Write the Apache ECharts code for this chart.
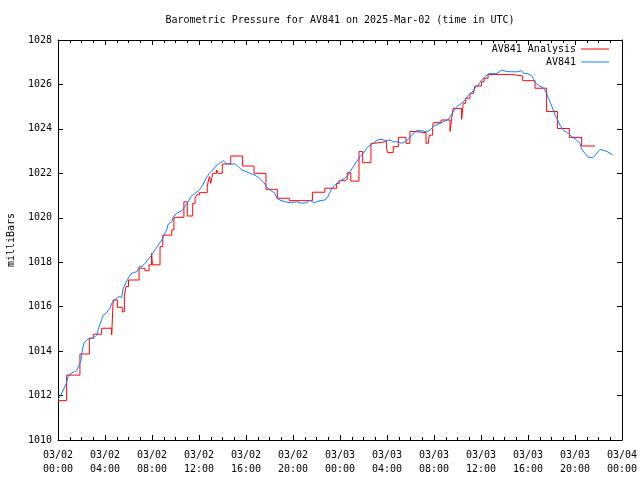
<!DOCTYPE html>
<html>
<head>
<meta charset="utf-8">
<script src="https://cdn.jsdelivr.net/npm/echarts@6/dist/echarts.min.js"></script>
<style>html,body{margin:0;padding:0;background:#fff}#c{width:640px;height:480px}</style>
</head>
<body>
<div id="c"></div>
<script>
// minutes since 2025-03-02 00:00 UTC
var blueMinutes = [0,10,27,44,50,61,83,95,104,116,121,126,134,147,163,180,189,198,206,223,231,245,266,274,286,300,311,325,333,347,359,371,384,402,415,432,444,461,478,495,512,530,541,555,563,581,589,606,632,648,665,678,700,722,739,756,773,790,807,824,844,858,878,904,921,938,964,980,1006,1028,1048,1066,1083,1108,1117,1134,1159,1185,1193,1219,1244,1270,1287,1304,1321,1338,1363,1380,1398,1414,1440,1465,1474,1482,1491,1500,1508,1516,1525,1533,1542,1559,1567,1576,1593,1610,1630,1653,1678,1695,1712,1738,1755,1772,1789,1806,1832,1857,1883,1900,1916,1934,1951,1976,1993,2002,2018,2036,2061,2078,2095,2112,2129,2146,2163,2180,2197,2214,2231,2248,2266,2291,2317,2342,2350,2368,2376,2393,2401,2419,2436,2453,2478,2495,2504,2516,2529,2538,2550,2563,2580,2606,2623,2645,2665,2674,2691,2708,2733,2747,2768,2793,2815,2832];
var blueValues = [1011.85,1011.95,1012.25,1012.58,1012.82,1012.97,1013.07,1013.12,1013.30,1013.52,1013.82,1014.13,1014.38,1014.50,1014.58,1014.58,1014.50,1014.72,1014.98,1015.43,1015.62,1015.70,1015.93,1016.15,1016.30,1016.38,1016.45,1016.42,1016.83,1017.08,1017.28,1017.47,1017.53,1017.57,1017.80,1017.83,1017.95,1018.13,1018.32,1018.55,1018.77,1019.00,1019.22,1019.45,1019.72,1019.82,1020.05,1020.20,1020.32,1020.50,1020.72,1020.95,1021.10,1021.25,1021.47,1021.78,1022.00,1022.15,1022.33,1022.45,1022.57,1022.45,1022.42,1022.42,1022.30,1022.15,1022.07,1022.00,1021.92,1021.78,1021.62,1021.40,1021.25,1021.10,1020.88,1020.80,1020.72,1020.68,1020.62,1020.72,1020.65,1020.68,1020.80,1020.68,1020.72,1020.77,1020.80,1020.98,1021.33,1021.47,1021.67,1021.78,1021.85,1021.92,1022.07,1022.15,1022.30,1022.37,1022.52,1022.52,1022.75,1022.90,1022.90,1023.13,1023.27,1023.35,1023.50,1023.53,1023.47,1023.50,1023.42,1023.42,1023.35,1023.42,1023.53,1023.72,1023.92,1023.92,1023.87,1023.95,1024.10,1024.18,1024.25,1024.35,1024.43,1024.55,1024.77,1025.00,1025.15,1025.30,1025.52,1025.63,1025.83,1025.97,1026.20,1026.35,1026.47,1026.50,1026.47,1026.53,1026.65,1026.58,1026.57,1026.57,1026.62,1026.62,1026.50,1026.50,1026.53,1026.40,1026.11,1025.95,1025.85,1025.60,1025.38,1025.15,1024.85,1024.62,1024.43,1024.17,1023.95,1023.80,1023.65,1023.53,1023.35,1023.08,1022.90,1022.72,1022.72,1022.86,1023.08,1023.02,1022.93,1022.83];

var redMinutes = [0,44,112,160,180,223,274,282,303,328,339,347,360,414,444,465,478,482,521,535,581,592,643,660,688,700,708,722,762,767,773,780,790,810,819,839,882,943,1001,1062,1120,1181,1299,1363,1423,1436,1465,1477,1495,1537,1556,1598,1615,1678,1683,1712,1738,1777,1797,1823,1879,1891,1896,1913,1916,1956,2002,2010,2018,2061,2069,2082,2104,2121,2129,2163,2175,2196,2317,2373,2436,2495,2550,2611,2674,2742];
var redValues = [1011.77,1012.92,1013.87,1014.58,1014.76,1015.03,1014.73,1016.30,1015.97,1015.77,1016.52,1016.90,1017.20,1017.73,1017.62,1017.88,1018.40,1017.88,1018.70,1019.22,1019.45,1020.02,1020.72,1020.08,1020.65,1020.88,1021.03,1021.13,1021.40,1021.63,1021.85,1021.55,1022.00,1022.15,1022.00,1022.42,1022.78,1022.33,1022.00,1021.28,1020.88,1020.77,1021.15,1021.33,1021.55,1021.67,1021.73,1022.03,1021.65,1022.98,1022.48,1023.35,1023.43,1023.13,1022.93,1023.20,1023.62,1023.35,1023.88,1023.83,1023.35,1023.30,1023.72,1024.02,1024.28,1024.40,1023.88,1024.48,1024.92,1024.43,1025.15,1025.38,1025.60,1025.67,1025.93,1026.12,1026.28,1026.45,1026.38,1026.17,1025.83,1024.78,1024.02,1023.62,1023.23,1023.23];

var titleText = 'Barometric Pressure for AV841 on 2025-Mar-02 (time in UTC)';
var yTicks = {min: 1010, max: 1028, interval: 2};
var xTicks = {min: 0, max: 2880, interval: 240};

function pair(a, b) { return a.map(function (v, i) { return [v, b[i]]; }); }
function fmtX(m) {
  var day = 2 + Math.floor(m / 1440);
  var h = Math.round((m % 1440) / 60);
  return '03/' + (day < 10 ? '0' : '') + day + '\n' + (h < 10 ? '0' : '') + h + ':00';
}

var FONT = 'DejaVu Sans Mono';
var txt = {fontFamily: FONT, fontSize: 10, color: '#000'};

var chart = echarts.init(document.getElementById('c'), null, {renderer: 'canvas'});
var baseX = {
  type: 'value', min: xTicks.min, max: xTicks.max, interval: xTicks.interval,
  axisLine: {show: true, onZero: false, lineStyle: {color: '#000', width: 1}},
  axisTick: {show: true, inside: true, length: 5, lineStyle: {color: '#000'}},
  minorTick: {show: true, splitNumber: 4, length: 3, lineStyle: {color: '#000'}},
  splitLine: {show: false}, minorSplitLine: {show: false}
};
var baseY = {
  type: 'value', min: yTicks.min, max: yTicks.max, interval: yTicks.interval,
  axisLine: {show: true, onZero: false, lineStyle: {color: '#000', width: 1}},
  axisTick: {show: true, inside: true, length: 5, lineStyle: {color: '#000'}},
  splitLine: {show: false}
};
chart.setOption({
  animation: false,
  backgroundColor: '#fff',
  title: {
    text: titleText, left: 335, top: 10, textAlign: 'center',
    textStyle: {fontFamily: FONT, fontSize: 10, fontWeight: 'normal', color: '#000'}
  },
  legend: {
    orient: 'vertical', right: 31, top: 44, align: 'right', itemGap: 3, padding: 0,
    itemWidth: 28, itemHeight: 1, icon: 'rect',
    textStyle: {fontFamily: FONT, fontSize: 10, color: '#000'},
    data: ['AV841 Analysis', 'AV841']
  },
  grid: {left: 58, right: 18, top: 40, bottom: 40, containLabel: false, outerBoundsMode: 'none'},
  xAxis: [
    Object.assign({}, baseX, {
      position: 'bottom',
      axisLabel: Object.assign({}, txt, {margin: 8, lineHeight: 14, formatter: fmtX})
    }),
    Object.assign({}, baseX, {position: 'top', axisLabel: {show: false}})
  ],
  yAxis: [
    Object.assign({}, baseY, {
      position: 'left', name: 'milliBars', nameLocation: 'middle', nameGap: 42, nameRotate: 90,
      nameTextStyle: txt,
      axisLabel: Object.assign({}, txt, {margin: 6, formatter: function (v) { return String(v); }})
    }),
    Object.assign({}, baseY, {position: 'right', axisLabel: {show: false}})
  ],
  series: [
    {
      name: 'AV841 Analysis', type: 'line', step: 'end', showSymbol: false, symbol: 'none',
      data: pair(redMinutes, redValues),
      lineStyle: {color: '#ff0000', width: 1}, itemStyle: {color: '#ff0000'}
    },
    {
      name: 'AV841', type: 'line', showSymbol: false, symbol: 'none',
      data: pair(blueMinutes, blueValues),
      lineStyle: {color: '#0a80ff', width: 1}, itemStyle: {color: '#0a80ff'}
    }
  ]
});
</script>
</body>
</html>
